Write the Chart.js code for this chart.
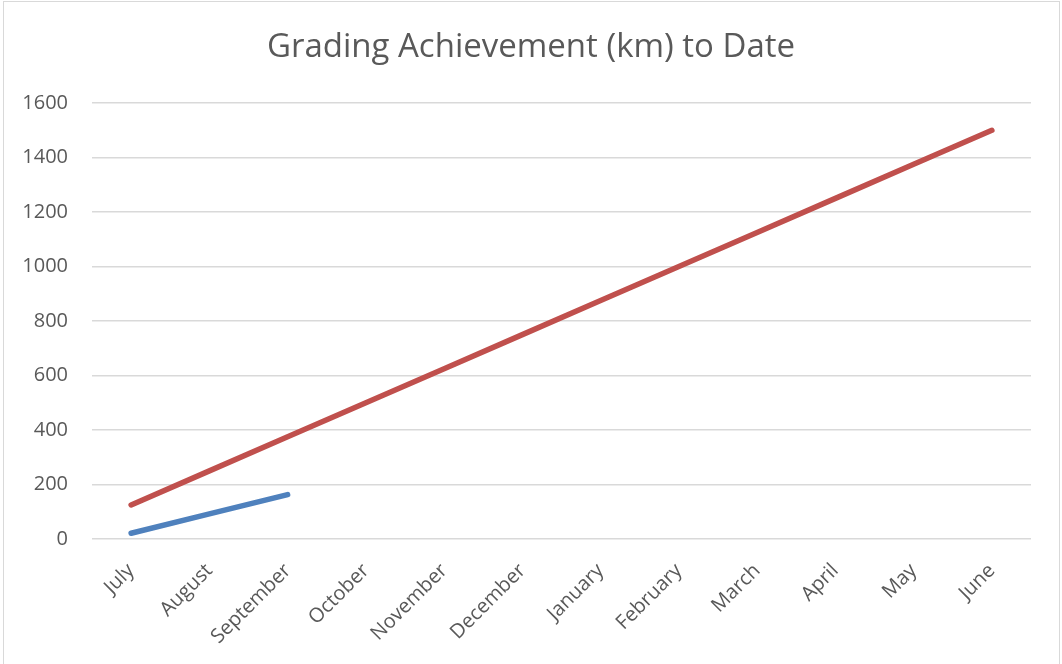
<!DOCTYPE html>
<html>
<head>
<meta charset="utf-8">
<script src="https://cdn.jsdelivr.net/npm/chart.js@4/dist/chart.umd.min.js"></script>
<style>
    body { margin: 0; background: #fff; }
    #wrap { position: relative; width: 1062px; height: 664px; overflow: hidden; }
    #frame { position: absolute; left: 3px; top: 1px; width: 1055px; height: 670px; border: 1px solid #d9d9d9; }
    canvas { position: absolute; left: 0; top: 0; }
</style>
</head>
<body>
<div id="wrap">
    <div id="frame"></div>
    <canvas id="chart" width="1062" height="664"></canvas>
</div>
<script>
var months = ['July', 'August', 'September', 'October', 'November', 'December',
    'January', 'February', 'March', 'April', 'May', 'June'];
var achieved = [21, 92, 163];
var target = [125, 250, 375, 500, 625, 750, 875, 1000, 1125, 1250, 1375, 1500];

var textColor = '#595959';
var gridColor = '#d9d9d9';
var fontFamily = '"Open Sans", "Liberation Sans", sans-serif';

var ctx = document.getElementById('chart').getContext('2d');
var myChart = new Chart(ctx, {
    type: 'line',
    data: {
        labels: months,
        datasets: [{
            label: 'Achieved',
            data: achieved,
            borderColor: '#4f81bd',
            backgroundColor: '#4f81bd',
            borderWidth: 5.5,
            borderCapStyle: 'round',
            pointRadius: 0,
            tension: 0
        }, {
            label: 'Target',
            data: target,
            borderColor: '#c0504d',
            backgroundColor: '#c0504d',
            borderWidth: 5.5,
            borderCapStyle: 'round',
            pointRadius: 0,
            tension: 0
        }]
    },
    options: {
        responsive: false,
        animation: false,
        layout: {
            padding: 0
        },
        plugins: {
            legend: { display: false },
            tooltip: { enabled: false },
            title: {
                display: true,
                text: 'Grading Achievement (km) to Date',
                color: textColor,
                font: { family: fontFamily, size: 33, weight: 'normal' },
                padding: { top: 28, bottom: 35.4 }
            }
        },
        scales: {
            x: {
                offset: true,
                grid: { display: false },
                border: { display: false },
                ticks: {
                    color: textColor,
                    font: { family: fontFamily, size: 20 },
                    minRotation: 45,
                    maxRotation: 45,
                    padding: 12,
                    autoSkip: false
                },
                afterFit: function (scale) { scale.height = 125; }
            },
            y: {
                min: 0,
                max: 1600,
                grid: { color: gridColor, lineWidth: 1.5, drawTicks: false },
                border: { display: false },
                ticks: {
                    stepSize: 200,
                    color: textColor,
                    font: { family: fontFamily, size: 20 },
                    padding: 24,
                    callback: function (value) { return String(value); }
                },
                afterFit: function (scale) { scale.width = 92; }
            },
            // empty right-hand spacer so the title stays centred on the canvas
            spacer: {
                type: 'linear',
                position: 'right',
                display: true,
                grid: { display: false },
                border: { display: false },
                ticks: { display: false },
                afterFit: function (scale) { scale.width = 31; }
            }
        }
    }
});
</script>
</body>
</html>
